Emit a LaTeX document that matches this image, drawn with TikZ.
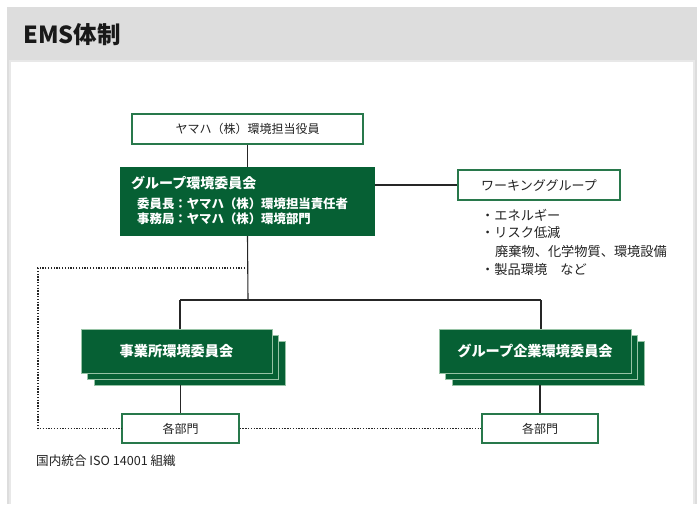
\documentclass[tikz,border=0pt]{standalone}
\usepackage{fontspec}
\setmainfont{Noto Sans CJK JP}
\usetikzlibrary{calc}
\definecolor{emsgreen}{RGB}{6,96,52}
\definecolor{emsedge}{RGB}{40,120,75}
\definecolor{emslight}{RGB}{150,195,165}
\definecolor{emstext}{RGB}{34,34,34}
\definecolor{emsgray}{RGB}{221,221,221}
\definecolor{emsframe}{RGB}{232,232,232}
\tikzset{
  wbox/.style={draw=emsedge, line width=1.2pt, fill=white, inner sep=0pt, text=emstext, font=\fontsize{12}{14}\selectfont},
  gbox/.style={draw=emslight, line width=0.8pt, fill=emsgreen, inner sep=0pt, text=white, font=\fontsize{14.2}{16}\selectfont\bfseries},
  conn/.style={draw=black!85, line width=1.1pt},
  dotline/.style={draw=black!85, line width=1.3pt, dash pattern=on 1.3pt off 1.5pt},
  plain/.style={inner sep=0pt, text=emstext, anchor=west},
}
\begin{document}
\begin{tikzpicture}[x=1pt,y=-1pt]
\useasboundingbox (0,0) rectangle (698,504);
% frame
\fill[emsgray] (7,7) rectangle (697,504);
\fill[emsframe] (9,60) rectangle (695,504);
\fill[white] (11,62) rectangle (693,504);
\node[plain, font=\fontsize{23.5}{26}\selectfont\bfseries, text=black!90] (title) at (23,35) {EMS体制};

% top box
\node[wbox, minimum width=231pt, minimum height=30pt] (top) at (247.5,129) {ヤマハ（株）環境担当役員};
% group committee
\node[draw=none, fill=emsgreen, inner sep=0pt, minimum width=255pt, minimum height=69pt] (gc) at (247.5,201.5) {};
\node[plain, text=white, font=\fontsize{14}{16}\selectfont\bfseries] (gct) at (131,183) {グループ環境委員会};
\node[plain, text=white, font=\fontsize{12.4}{14}\selectfont\bfseries] (gc1) at (137,204) {委員長：ヤマハ（株）環境担当責任者};
\node[plain, text=white, font=\fontsize{12.4}{14}\selectfont\bfseries] (gc2) at (137,219) {事務局：ヤマハ（株）環境部門};

% working group
\node[wbox, minimum width=162pt, minimum height=30pt, font=\fontsize{13}{15}\selectfont] (wg) at (539,185) {ワーキンググループ};
\node[plain, font=\fontsize{13.2}{15}\selectfont] (b1) at (481,215) {・エネルギー};
\node[plain, font=\fontsize{13.2}{15}\selectfont] (b2) at (481,233) {・リスク低減};
\node[plain, font=\fontsize{13.2}{15}\selectfont] (b3) at (495,251) {廃棄物、化学物質、環境設備};
\node[plain, font=\fontsize{13.2}{15}\selectfont] (b4) at (481,269) {・製品環境　など};

% left stack
\node[gbox, minimum width=191pt, minimum height=44pt] (l3) at (189.5,363) {};
\node[gbox, minimum width=191pt, minimum height=44pt] (l2) at (183,357) {};
\node[gbox, minimum width=191pt, minimum height=44pt] (lf) at (176.5,351) {事業所環境委員会};
% right stack
\node[gbox, minimum width=192pt, minimum height=44pt] (r3) at (548,363) {};
\node[gbox, minimum width=192pt, minimum height=44pt] (r2) at (541.5,357) {};
\node[gbox, minimum width=192pt, minimum height=44pt] (rf) at (535,351) {グループ企業環境委員会};

% departments
\node[wbox, minimum width=117pt, minimum height=29pt] (ld) at (180.5,428.5) {各部門};
\node[wbox, minimum width=116pt, minimum height=29pt] (rd) at (540,428.5) {各部門};

\node[plain, font=\fontsize{12.6}{14}\selectfont] (foot) at (36,461) {国内統合 ISO 14001 組織};

% connectors
\coordinate (bus) at (248,300);
\coordinate (lbus) at (180,300);
\coordinate (rbus) at (541,300);
\coordinate (dj) at (248,268);
\coordinate (dc) at (38,268);
\draw[conn] (top.south) -- (gc.north);
\draw[conn] (gc.south) -- (bus);
\draw[conn] (wg.west -| gc.east) -- (wg.west);
\draw[conn] (lbus) -- (rbus);
\draw[conn] (lbus) -- (lbus |- lf.north);
\draw[conn] (rbus) -- (rbus |- rf.north);
\draw[conn] (ld.north |- l3.south) -- (ld.north);
\draw[conn] (rd.north |- r3.south) -- (rd.north);
\draw[dotline] (dj) -- (dc) -- (dc |- ld.west) -- (ld.west);
\draw[dotline] (ld.east) -- (rd.west);
\end{tikzpicture}
\end{document}
